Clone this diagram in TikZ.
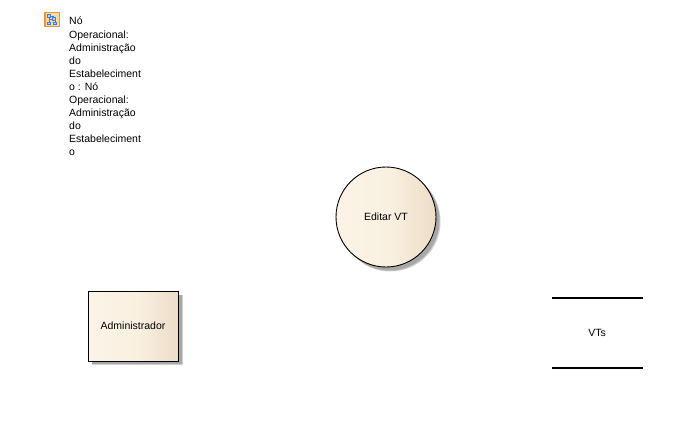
\documentclass[tikz,border=0pt]{standalone}
\usepackage{fontspec}
\setmainfont{Liberation Sans}
\definecolor{creamA}{HTML}{FBF3E6}
\definecolor{creamB}{HTML}{F9F0E1}
\definecolor{creamC}{HTML}{ECDDC6}
\definecolor{shadowgrey}{HTML}{A8A8A8}
\definecolor{shadowlight}{HTML}{D0D0D0}
\definecolor{iconorange}{HTML}{E8963C}
\definecolor{iconfill}{HTML}{FBD9A0}
\definecolor{iconblue}{HTML}{3C7CE8}
\definecolor{iconpale}{HTML}{BBD4FA}
\pgfdeclarehorizontalshading{creamfill}{100bp}{color(0bp)=(creamA); color(25bp)=(creamA); color(52bp)=(creamB); color(75bp)=(creamC); color(100bp)=(creamC)}
\tikzset{
  x=1pt,y=-1pt,
  label text/.style={font=\fontsize{10.5}{13.1}\selectfont,text=black,inner sep=0pt},
  shape line/.style={draw=black,line width=0.9pt,shading=creamfill},
  shadow part/.style={fill=shadowgrey,draw=none},
  shadow edge/.style={fill=shadowlight,draw=none},
  store line/.style={draw=black,line width=1.5pt},
  icon link/.style={draw=iconblue,line width=0.7pt},
  icon box/.style={draw=iconblue,line width=0.7pt,fill=iconpale}
}
\begin{document}
\begin{tikzpicture}
\useasboundingbox (0,0) rectangle (692,426);
% icon
\draw[draw=iconorange,fill=iconfill,line width=1.2pt] (45,12.5) rectangle (59.5,26.5);
\draw[icon link] (49,16) -- (49,23) (49,19) -- (55,19) -- (55,23) (49,16) -- (54,16);
\draw[icon box] (47.5,14.5) rectangle (50.5,17);
\draw[icon box] (52,17.5) rectangle (55,20);
\draw[icon box] (47.5,22) rectangle (50.5,24.5);
\draw[icon box] (53,22) rectangle (56,24.5);
% package title
\node[label text,anchor=north west,align=left] (title) at (69,17) {N\'o\\Operacional:\\Administra\c{c}\~ao\\do\\Estabeleciment\\o : N\'o\\Operacional:\\Administra\c{c}\~ao\\do\\Estabeleciment\\o};
% process
\fill[shadow edge] (390.5,221.5) circle (50);
\fill[shadow part] (389.5,220.5) circle (50);
\path[shape line] (386,217) circle (50);
\node[label text] (editar) at (386,216.5) {Editar VT};
% external entity
\fill[shadow edge] (92,295) rectangle (182.5,365);
\fill[shadow part] (92,295) rectangle (181.5,364);
\path[shape line] (88.5,291.5) rectangle (178.5,361);
\node[label text] (admin) at (133,326) {Administrador};
% data store
\coordinate (s1) at (552,298);
\coordinate (s2) at (643,298);
\coordinate (s3) at (552,368);
\coordinate (s4) at (643,368);
\draw[store line] (s1) -- (s2);
\draw[store line] (s3) -- (s4);
\node[label text] (vts) at (597,333) {VTs};
\end{tikzpicture}
\end{document}
